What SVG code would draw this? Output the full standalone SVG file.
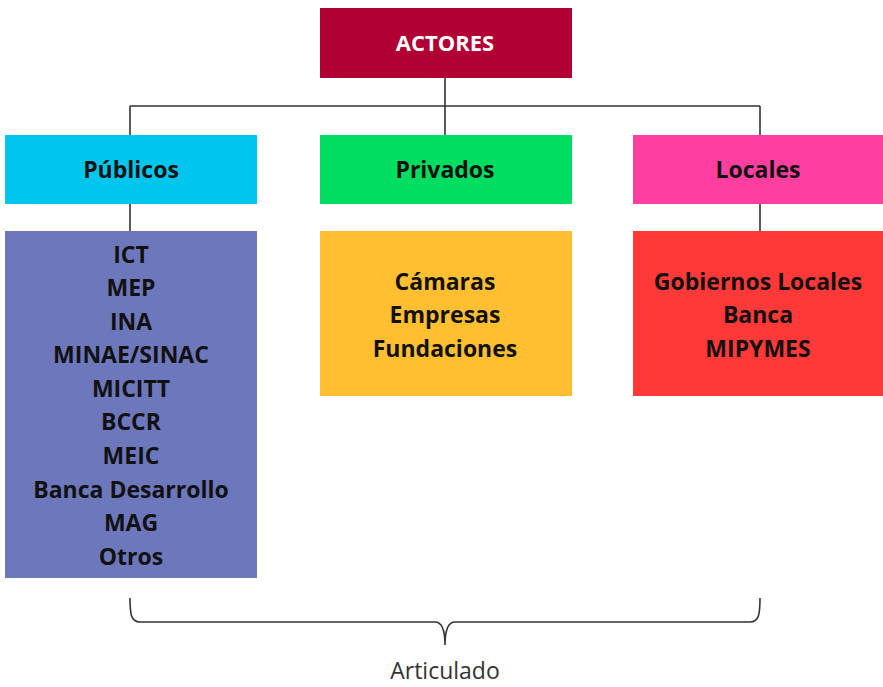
<svg xmlns="http://www.w3.org/2000/svg" width="883" height="687" viewBox="0 0 883 687">
<style>
.t{font-family:"Open Sans",Lato,"Liberation Sans",sans-serif;font-weight:bold;font-size:23px;text-anchor:middle;fill:#111}
.w{fill:#fff;font-size:22px}
.ln{stroke:#333;stroke-width:1.6;fill:none}
</style>
<rect width="883" height="687" fill="#fff"/>
<g id="connectors">
<path class="ln" d="M445 78V135M130 106H760M130 106V135M760 106V135M130 204V231M760 204V231"/>
<path class="ln" d="M130 598C130 614 131 622 140 622H435C442 622 445 630 445 645C445 630 448 622 455 622H750C759 622 760 614 760 598"/>
</g>
<g id="actores"><rect x="320" y="8" width="252" height="70" fill="#B00034"/><text class="t w" x="445" y="51">ACTORES</text></g>
<g id="publicos"><rect x="5" y="135" width="252" height="69" fill="#00C6EE"/><text class="t" x="131" y="178">Públicos</text></g>
<g id="privados"><rect x="320" y="135" width="252" height="69" fill="#00DE62"/><text class="t" x="445" y="178">Privados</text></g>
<g id="locales"><rect x="633" y="135" width="250" height="69" fill="#FF3FA0"/><text class="t" x="758" y="178">Locales</text></g>
<g id="publicos-list"><rect x="5" y="231" width="252" height="347" fill="#6D77BC"/>
<text class="t" x="131" y="263">ICT</text>
<text class="t" x="131" y="296">MEP</text>
<text class="t" x="131" y="330">INA</text>
<text class="t" x="131" y="363">MINAE/SINAC</text>
<text class="t" x="131" y="397">MICITT</text>
<text class="t" x="131" y="430">BCCR</text>
<text class="t" x="131" y="464">MEIC</text>
<text class="t" x="131" y="498">Banca Desarrollo</text>
<text class="t" x="131" y="531">MAG</text>
<text class="t" x="131" y="565">Otros</text>
</g>
<g id="privados-list"><rect x="320" y="231" width="252" height="165" fill="#FFBF30"/>
<text class="t" x="445" y="290">Cámaras</text>
<text class="t" x="445" y="323">Empresas</text>
<text class="t" x="445" y="357">Fundaciones</text>
</g>
<g id="locales-list"><rect x="633" y="231" width="250" height="165" fill="#FF3838"/>
<text class="t" x="758" y="290">Gobiernos Locales</text>
<text class="t" x="758" y="323">Banca</text>
<text class="t" x="758" y="357">MIPYMES</text>
</g>
<g id="articulado"><text x="445" y="679" font-family="'Open Sans',Lato,'Liberation Sans',sans-serif" font-size="23" text-anchor="middle" fill="#333">Articulado</text></g>
</svg>
